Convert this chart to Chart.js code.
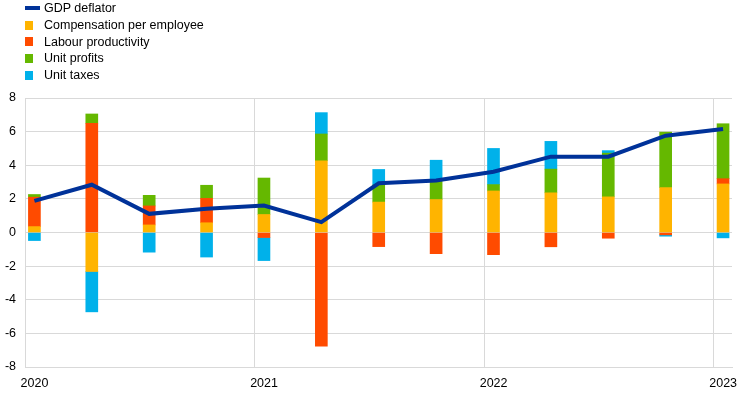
<!DOCTYPE html>
<html>
<head>
<meta charset="utf-8">
<script src="https://cdn.jsdelivr.net/npm/chart.js@4.4.0/dist/chart.umd.min.js"></script>
<style>
  html, body { margin: 0; padding: 0; background: #fff; }
  #wrap { position: relative; width: 744px; height: 395px; }
  #legend { position: absolute; left: 25px; top: 0px; font: 12.5px "Liberation Sans", Arial, sans-serif; color: #000; }
  .item { height: 16.7px; display: flex; align-items: center; white-space: nowrap; }
  .mark { width: 8px; height: 9px; margin-right: 11px; flex: none; }
  .mark.line { width: 15px; height: 4px; margin-right: 4px; }
</style>
</head>
<body>
<div id="wrap">
  <canvas id="chart" width="744" height="395"></canvas>
  <div id="legend"></div>
</div>
<script>
const quarters = ['2020 Q1', '2020 Q2', '2020 Q3', '2020 Q4',
                  '2021 Q1', '2021 Q2', '2021 Q3', '2021 Q4',
                  '2022 Q1', '2022 Q2', '2022 Q3', '2022 Q4',
                  '2023 Q1'];

const gdpDeflator   = [1.88, 2.84, 1.11, 1.41, 1.60, 0.62, 2.93, 3.09, 3.61, 4.51, 4.51, 5.76, 6.15];
const compensation  = [0.35, -2.32, 0.45, 0.58, 1.07, 4.27, 1.81, 1.96, 2.47, 2.36, 2.12, 2.67, 2.89];
const productivity  = [1.75, 6.50, 1.13, 1.45, -0.30, -6.76, -0.84, -1.26, -1.32, -0.85, -0.34, -0.14, 0.31];
const unitProfits   = [0.16, 0.55, 0.63, 0.78, 2.17, 1.59, 1.02, 1.14, 0.38, 1.41, 2.60, 3.30, 3.27];
const unitTaxes     = [-0.48, -2.40, -1.17, -1.46, -1.37, 1.27, 0.92, 1.20, 2.15, 1.65, 0.15, -0.08, -0.32];

const yearTicks = [2020, 2021, 2022, 2023];

const colors = {
  deflator: '#003299',
  compensation: '#ffb400',
  productivity: '#ff4b00',
  profits: '#65b800',
  taxes: '#00b1ea'
};

// bars sit a little to the right of the quarter start
function qPos(q) {
  const [y, qq] = q.split(' Q');
  return Number(y) + (Number(qq) - 1) / 4 + 0.041;
}

function points(values) {
  return values.map((v, i) => ({ x: qPos(quarters[i]), y: v }));
}

function barSet(label, values, color) {
  return {
    type: 'bar',
    label: label,
    data: points(values),
    backgroundColor: color,
    borderWidth: 0,
    barThickness: 12,
    stack: 'parts'
  };
}

const datasets = [
  {
    type: 'line',
    label: 'GDP deflator',
    data: points(gdpDeflator),
    borderColor: colors.deflator,
    backgroundColor: colors.deflator,
    borderWidth: 4,
    pointRadius: 0,
    tension: 0,
    stack: 'line'
  },
  barSet('Compensation per employee', compensation, colors.compensation),
  barSet('Labour productivity', productivity, colors.productivity),
  barSet('Unit profits', unitProfits, colors.profits),
  barSet('Unit taxes', unitTaxes, colors.taxes)
];

const legendEl = document.getElementById('legend');
datasets.forEach(ds => {
  const row = document.createElement('div');
  row.className = 'item';
  const m = document.createElement('span');
  m.className = ds.type === 'line' ? 'mark line' : 'mark';
  m.style.background = ds.type === 'line' ? ds.borderColor : ds.backgroundColor;
  const t = document.createElement('span');
  t.textContent = ds.label;
  row.appendChild(m);
  row.appendChild(t);
  legendEl.appendChild(row);
});

const gridColor = '#d9d9d9';
const tickFont = { family: '"Liberation Sans", Arial, sans-serif', size: 12.5 };

new Chart(document.getElementById('chart').getContext('2d'), {
  data: { datasets: datasets },
  options: {
    responsive: false,
    animation: false,
    layout: { padding: { top: 98, right: 12, left: 0, bottom: 0 } },
    plugins: {
      legend: { display: false },
      tooltip: { enabled: false }
    },
    scales: {
      x: {
        type: 'linear',
        stacked: true,
        offset: false,
        min: 2020,
        max: 2023.08,
        afterBuildTicks: scale => {
          scale.ticks = yearTicks.map(v => ({ value: v }));
        },
        afterFit: scale => { scale.height = 28; },
        grid: { color: gridColor, drawTicks: false, offset: false },
        border: { color: gridColor },
        ticks: {
          color: '#000',
          font: tickFont,
          padding: 9,
          labelOffset: 9.5,
          maxRotation: 0,
          callback: v => String(v)
        }
      },
      y: {
        stacked: true,
        min: -8,
        max: 8,
        afterFit: scale => { scale.width = 25; },
        grid: { color: gridColor, drawTicks: false },
        border: { color: gridColor },
        ticks: {
          stepSize: 2,
          color: '#000',
          font: tickFont,
          padding: 9
        }
      }
    }
  }
});
</script>
</body>
</html>
